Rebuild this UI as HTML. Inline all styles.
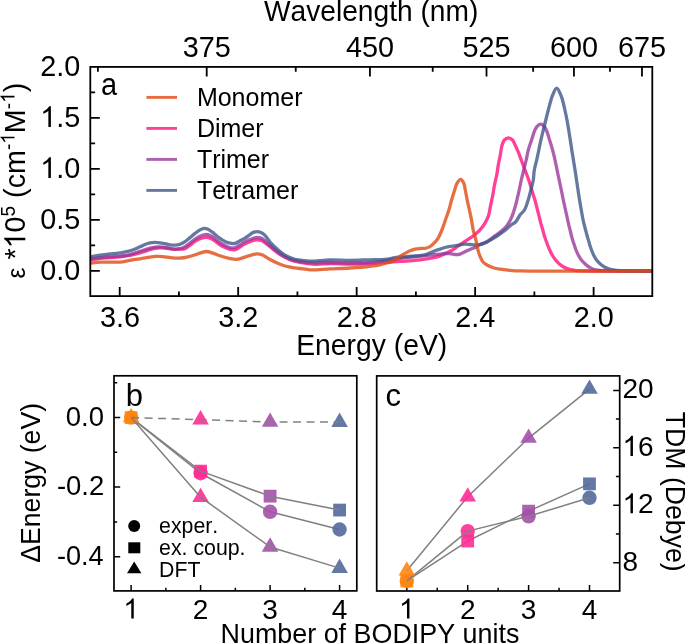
<!DOCTYPE html>
<html><head><meta charset="utf-8"><style>
html,body{margin:0;padding:0;background:#fff;width:685px;height:643px;overflow:hidden}
svg{display:block;transform:translateZ(0);will-change:transform}
text{font-family:"Liberation Sans",sans-serif;font-kerning:none}
</style></head><body>
<svg width="685" height="643" viewBox="0 0 685 643" font-family="Liberation Sans, sans-serif">
<rect width="685" height="643" fill="#fff"/>
<defs><clipPath id="ca"><rect x="90.3" y="66.9" width="562.0" height="229.2"/></clipPath></defs>
<g clip-path="url(#ca)" fill="none" stroke-width="3.30" stroke-linejoin="round" stroke-linecap="round" stroke-opacity="0.80">
<path d="M89.00,260.00 C92.67,259.47 96.41,258.80 100.00,258.40 C103.41,258.02 106.67,257.87 110.00,257.60 C113.33,257.33 116.67,257.18 120.00,256.80 C123.34,256.42 126.68,255.96 130.00,255.30 C133.35,254.63 136.68,253.73 140.00,252.80 C143.35,251.86 147.23,250.49 150.00,249.70 C151.95,249.15 153.32,248.72 155.00,248.40 C156.66,248.09 158.33,247.87 160.00,247.80 C161.66,247.73 163.34,247.83 165.00,248.00 C166.67,248.17 168.33,248.57 170.00,248.80 C171.66,249.03 173.33,249.35 175.00,249.40 C176.66,249.45 178.33,249.23 180.00,249.10 C181.67,248.97 183.40,249.18 185.00,248.60 C186.75,247.96 188.35,246.39 190.00,245.20 C191.68,243.99 193.29,242.49 195.00,241.40 C196.62,240.37 198.16,239.46 200.00,238.80 C202.05,238.07 204.70,237.30 206.80,237.40 C208.66,237.49 210.16,238.07 212.00,239.00 C214.48,240.25 217.59,243.40 220.00,244.90 C221.81,246.03 223.31,246.76 225.00,247.50 C226.64,248.22 228.31,248.95 230.00,249.30 C231.64,249.64 233.12,250.04 235.00,249.60 C237.85,248.94 241.93,245.45 245.00,243.90 C247.51,242.63 249.83,241.47 252.00,240.80 C253.77,240.26 255.33,239.90 257.00,239.90 C258.67,239.90 260.24,240.03 262.00,240.80 C264.47,241.88 267.19,244.68 270.00,246.80 C273.15,249.18 276.58,252.21 280.00,254.40 C283.25,256.48 286.59,258.34 290.00,259.70 C293.26,261.00 296.30,261.75 300.00,262.50 C304.47,263.40 309.99,264.23 315.00,264.40 C319.99,264.56 324.64,263.59 330.00,263.50 C336.19,263.39 343.33,264.00 350.00,264.00 C356.67,264.00 363.82,263.82 370.00,263.50 C375.36,263.22 380.00,262.65 385.00,262.30 C390.00,261.95 395.00,261.73 400.00,261.40 C405.00,261.07 410.51,260.73 415.00,260.30 C418.67,259.94 421.67,259.58 425.00,259.10 C428.34,258.62 432.25,258.04 435.00,257.40 C436.97,256.94 438.35,256.49 440.00,255.90 C441.68,255.30 443.35,254.56 445.00,253.80 C446.68,253.03 448.35,252.21 450.00,251.30 C451.68,250.38 453.36,249.40 455.00,248.30 C456.69,247.17 458.32,245.78 460.00,244.60 C461.65,243.45 463.33,242.37 465.00,241.30 C466.66,240.24 468.36,239.33 470.00,238.20 C471.69,237.03 473.36,235.76 475.00,234.40 C476.70,233.00 478.41,231.64 480.00,229.90 C481.77,227.96 483.63,225.47 485.00,223.20 C486.25,221.13 487.37,218.40 488.00,216.90 C488.34,216.09 488.45,215.90 488.70,215.00 C489.27,212.99 490.02,208.33 490.70,205.00 C491.38,201.67 492.17,198.34 492.80,195.00 C493.43,191.67 493.85,188.33 494.50,185.00 C495.15,181.66 496.07,178.34 496.70,175.00 C497.33,171.68 497.70,168.33 498.30,165.00 C498.90,161.66 499.67,158.34 500.30,155.00 C500.93,151.67 501.25,147.72 502.10,145.00 C502.73,143.00 503.26,141.20 504.40,140.00 C505.43,138.91 507.06,137.91 508.40,137.90 C509.76,137.89 511.41,138.92 512.50,140.00 C513.71,141.20 514.22,143.17 515.10,145.00 C516.14,147.17 517.26,149.66 518.30,152.20 C519.43,154.97 520.47,157.99 521.60,161.00 C522.80,164.18 524.09,167.57 525.30,170.80 C526.49,173.96 527.75,177.10 528.80,180.20 C529.81,183.17 530.69,186.35 531.50,189.00 C532.16,191.19 532.71,193.09 533.30,195.00 C533.84,196.75 534.33,198.04 534.90,200.00 C535.70,202.75 536.65,206.66 537.50,210.00 C538.35,213.33 539.30,217.24 540.00,220.00 C540.50,221.95 540.83,223.34 541.30,225.00 C541.77,226.67 542.33,228.33 542.80,230.00 C543.27,231.66 543.60,233.34 544.10,235.00 C544.60,236.68 545.22,238.34 545.80,240.00 C546.38,241.67 546.95,243.34 547.60,245.00 C548.25,246.68 548.94,248.35 549.70,250.00 C550.47,251.68 551.24,253.36 552.20,255.00 C553.20,256.70 554.37,258.47 555.60,260.00 C556.78,261.46 558.04,262.82 559.40,264.00 C560.71,265.14 562.09,266.17 563.60,267.00 C565.15,267.85 566.80,268.46 568.60,269.00 C570.58,269.59 572.62,269.99 575.00,270.30 C577.95,270.69 581.33,270.78 585.00,270.90 C589.49,271.05 593.47,270.97 600.00,271.00 C612.27,271.05 635.33,271.07 653.00,271.10" stroke="rgb(255,16,124)"/>
<path d="M89.00,259.30 C92.67,258.77 96.41,258.10 100.00,257.70 C103.41,257.32 106.67,257.17 110.00,256.90 C113.33,256.63 116.67,256.48 120.00,256.10 C123.34,255.72 126.70,255.39 130.00,254.60 C133.37,253.80 136.66,252.37 140.00,251.30 C143.33,250.23 147.23,248.93 150.00,248.20 C151.94,247.69 153.32,247.33 155.00,247.10 C156.66,246.87 158.33,246.77 160.00,246.80 C161.67,246.83 163.34,247.04 165.00,247.30 C166.67,247.57 168.33,248.10 170.00,248.40 C171.66,248.70 173.33,249.05 175.00,249.10 C176.66,249.15 178.36,249.10 180.00,248.70 C181.70,248.29 183.38,247.51 185.00,246.60 C186.72,245.63 188.34,244.23 190.00,243.00 C191.67,241.76 193.30,240.35 195.00,239.20 C196.64,238.09 198.18,237.00 200.00,236.20 C201.93,235.35 204.26,234.24 206.30,234.30 C208.26,234.36 210.03,235.31 212.00,236.40 C214.55,237.81 217.60,240.98 220.00,242.60 C221.82,243.82 223.31,244.66 225.00,245.50 C226.64,246.32 228.30,247.26 230.00,247.60 C231.63,247.93 233.39,248.02 235.00,247.60 C236.73,247.15 238.35,245.79 240.00,244.80 C241.68,243.79 243.15,242.57 245.00,241.60 C247.09,240.51 249.84,239.40 252.00,238.70 C253.78,238.12 255.33,237.53 257.00,237.50 C258.66,237.47 260.26,237.64 262.00,238.50 C264.52,239.75 267.16,243.18 270.00,245.60 C273.12,248.26 276.55,251.49 280.00,253.80 C283.23,255.97 286.58,257.87 290.00,259.20 C293.26,260.46 296.65,261.08 300.00,261.70 C303.31,262.31 306.09,262.71 310.00,262.90 C315.51,263.17 323.33,262.45 330.00,262.50 C336.67,262.55 343.33,263.18 350.00,263.20 C356.67,263.22 363.82,263.10 370.00,262.60 C375.37,262.16 379.64,261.35 385.00,260.60 C391.19,259.74 398.33,258.53 405.00,257.70 C411.66,256.87 419.48,256.19 425.00,255.60 C428.91,255.18 432.24,254.76 435.00,254.50 C436.95,254.31 438.33,254.27 440.00,254.10 C441.67,253.93 443.33,253.57 445.00,253.50 C446.66,253.43 448.34,253.53 450.00,253.70 C451.67,253.87 453.71,254.33 455.00,254.50 C455.81,254.61 456.27,254.74 457.00,254.70 C457.90,254.66 458.90,254.46 460.00,254.10 C461.48,253.62 463.34,252.58 465.00,251.80 C466.67,251.02 468.32,250.14 470.00,249.40 C471.65,248.67 473.36,248.18 475.00,247.40 C476.69,246.59 478.31,245.41 480.00,244.60 C481.64,243.82 483.37,243.41 485.00,242.60 C486.70,241.76 488.35,240.72 490.00,239.60 C491.75,238.41 493.42,236.92 495.20,235.60 C497.02,234.25 499.01,233.05 500.80,231.60 C502.61,230.12 504.46,228.61 506.00,226.80 C507.57,224.95 508.94,222.79 510.10,220.60 C511.27,218.39 512.10,216.11 513.00,213.60 C514.01,210.79 515.01,207.40 515.80,204.50 C516.51,201.89 517.02,199.46 517.60,197.00 C518.16,194.63 518.64,192.54 519.20,190.00 C519.87,186.97 520.55,183.33 521.30,180.00 C522.05,176.66 522.88,173.33 523.70,170.00 C524.52,166.66 525.43,163.34 526.20,160.00 C526.96,156.67 527.41,153.31 528.30,150.00 C529.20,146.64 530.50,143.33 531.60,140.00 C532.70,136.67 533.69,132.53 534.90,130.00 C535.72,128.30 536.45,127.01 537.50,126.00 C538.43,125.11 539.64,124.09 540.70,124.10 C541.74,124.11 542.91,125.12 543.80,126.00 C544.82,127.01 545.51,128.31 546.30,130.00 C547.49,132.53 548.55,136.66 549.60,140.00 C550.65,143.33 551.70,146.65 552.60,150.00 C553.50,153.32 554.18,156.32 555.00,160.00 C556.00,164.49 557.05,170.00 558.10,175.00 C559.15,180.00 560.37,185.50 561.30,190.00 C562.06,193.67 562.60,196.67 563.30,200.00 C564.00,203.34 564.77,206.67 565.50,210.00 C566.23,213.33 567.09,217.24 567.70,220.00 C568.13,221.95 568.40,223.34 568.80,225.00 C569.20,226.67 569.68,228.33 570.10,230.00 C570.52,231.66 570.88,233.34 571.30,235.00 C571.72,236.67 572.10,238.34 572.60,240.00 C573.10,241.68 573.73,243.33 574.30,245.00 C574.87,246.67 575.34,248.35 576.00,250.00 C576.67,251.68 577.42,253.36 578.30,255.00 C579.21,256.70 580.23,258.48 581.40,260.00 C582.54,261.47 583.89,262.80 585.20,264.00 C586.43,265.12 587.70,266.15 589.00,267.00 C590.21,267.79 591.21,268.47 592.70,269.00 C594.68,269.71 597.36,270.08 600.00,270.40 C603.06,270.77 605.50,270.78 610.00,270.90 C619.32,271.14 638.67,270.97 653.00,271.00" stroke="rgb(155,55,155)"/>
<path d="M89.00,257.00 C92.67,256.37 96.41,255.61 100.00,255.10 C103.41,254.62 106.67,254.38 110.00,254.00 C113.33,253.62 116.68,253.31 120.00,252.80 C123.34,252.28 126.72,251.87 130.00,250.90 C133.38,249.90 137.25,248.00 140.00,246.80 C141.96,245.95 143.31,245.16 145.00,244.50 C146.65,243.86 148.31,243.25 150.00,242.90 C151.65,242.56 153.33,242.42 155.00,242.40 C156.67,242.38 158.34,242.58 160.00,242.80 C161.67,243.02 163.34,243.37 165.00,243.70 C166.67,244.03 168.32,244.57 170.00,244.80 C171.66,245.03 173.34,245.20 175.00,245.10 C176.67,245.00 178.37,244.75 180.00,244.20 C181.71,243.62 183.38,242.65 185.00,241.60 C186.72,240.48 188.34,238.96 190.00,237.60 C191.67,236.23 193.30,234.70 195.00,233.40 C196.64,232.14 198.38,230.78 200.00,229.90 C201.36,229.16 202.65,228.39 204.00,228.30 C205.32,228.21 206.71,228.74 208.00,229.30 C209.39,229.90 210.69,230.94 212.00,231.90 C213.36,232.90 214.66,234.11 216.00,235.20 C217.33,236.28 218.56,237.40 220.00,238.40 C221.54,239.47 223.29,240.59 225.00,241.40 C226.63,242.17 228.31,242.87 230.00,243.20 C231.64,243.52 233.38,243.76 235.00,243.40 C236.72,243.02 238.34,241.68 240.00,240.80 C241.67,239.91 243.36,239.11 245.00,238.10 C246.70,237.05 248.54,235.60 250.00,234.60 C251.12,233.83 251.88,233.08 253.00,232.60 C254.20,232.09 255.67,231.70 257.00,231.70 C258.33,231.70 259.72,232.03 261.00,232.60 C262.40,233.22 263.69,234.13 265.00,235.40 C266.71,237.06 268.26,240.09 270.00,242.10 C271.60,243.95 273.31,245.50 275.00,247.10 C276.65,248.66 278.30,250.23 280.00,251.60 C281.63,252.92 283.29,254.18 285.00,255.20 C286.63,256.16 288.31,256.91 290.00,257.60 C291.65,258.27 293.32,258.88 295.00,259.30 C296.65,259.71 298.04,259.84 300.00,260.10 C302.76,260.47 306.09,261.12 310.00,261.20 C315.52,261.31 323.33,259.95 330.00,259.80 C336.66,259.65 343.33,260.30 350.00,260.30 C356.67,260.30 363.81,259.94 370.00,259.80 C375.36,259.68 380.52,259.95 385.00,259.50 C388.69,259.13 391.66,258.15 395.00,257.70 C398.32,257.25 401.67,257.08 405.00,256.80 C408.33,256.52 411.67,256.33 415.00,256.00 C418.34,255.67 421.72,255.64 425.00,254.80 C428.39,253.93 432.23,251.83 435.00,250.80 C436.94,250.08 438.33,249.65 440.00,249.10 C441.66,248.55 443.32,247.95 445.00,247.50 C446.66,247.05 448.33,246.67 450.00,246.40 C451.66,246.14 453.34,246.16 455.00,245.90 C456.67,245.63 458.33,245.08 460.00,244.80 C461.66,244.52 463.33,244.25 465.00,244.20 C466.66,244.15 468.33,244.38 470.00,244.50 C471.67,244.62 473.33,244.88 475.00,244.90 C476.67,244.92 478.35,244.89 480.00,244.60 C481.68,244.30 483.33,243.81 485.00,243.10 C486.83,242.32 488.59,241.12 490.50,240.00 C492.61,238.77 494.80,237.52 497.10,236.00 C499.76,234.25 503.03,231.98 505.50,230.00 C507.61,228.32 509.30,226.41 511.10,225.00 C512.61,223.82 514.15,223.39 515.50,222.00 C517.19,220.27 518.43,217.09 520.00,215.00 C521.41,213.13 523.14,212.09 524.40,210.00 C526.00,207.35 527.11,203.36 528.20,200.00 C529.27,196.69 530.05,193.34 530.90,190.00 C531.75,186.67 532.73,183.35 533.30,180.00 C533.86,176.69 533.74,173.31 534.30,170.00 C534.87,166.65 535.95,163.34 536.70,160.00 C537.45,156.67 538.10,153.33 538.80,150.00 C539.50,146.67 540.15,143.33 540.90,140.00 C541.65,136.66 542.48,133.33 543.30,130.00 C544.12,126.66 544.97,123.33 545.80,120.00 C546.63,116.67 547.43,113.33 548.30,110.00 C549.17,106.66 550.16,102.75 551.00,100.00 C551.60,98.04 551.90,96.75 552.70,95.00 C553.68,92.86 555.35,88.21 556.70,88.20 C558.05,88.19 559.80,92.86 560.80,95.00 C561.61,96.75 561.93,98.03 562.50,100.00 C563.29,102.75 564.15,106.66 564.90,110.00 C565.65,113.33 566.37,116.66 567.00,120.00 C567.63,123.33 568.15,126.67 568.70,130.00 C569.25,133.33 569.78,136.67 570.30,140.00 C570.82,143.33 571.28,146.67 571.80,150.00 C572.32,153.33 572.81,156.33 573.40,160.00 C574.12,164.49 575.03,170.00 575.80,175.00 C576.57,180.00 577.23,185.00 578.00,190.00 C578.77,195.00 579.55,200.00 580.40,205.00 C581.25,210.00 582.33,216.35 583.10,220.00 C583.55,222.12 583.88,223.34 584.30,225.00 C584.72,226.67 585.17,228.33 585.60,230.00 C586.03,231.67 586.43,233.34 586.90,235.00 C587.37,236.67 587.92,238.33 588.40,240.00 C588.88,241.66 589.29,243.34 589.80,245.00 C590.32,246.67 590.87,248.34 591.50,250.00 C592.14,251.68 592.78,253.36 593.60,255.00 C594.44,256.69 595.37,258.49 596.50,260.00 C597.61,261.48 598.94,262.82 600.30,264.00 C601.61,265.14 602.99,266.17 604.50,267.00 C606.05,267.85 607.64,268.46 609.50,269.00 C611.72,269.64 614.15,270.08 617.00,270.40 C620.73,270.82 625.05,270.79 630.00,270.90 C636.58,271.04 645.33,270.97 653.00,271.00" stroke="rgb(61,86,136)"/>
<path d="M89.00,263.20 C92.67,262.83 96.42,262.28 100.00,262.10 C103.41,261.93 106.67,262.10 110.00,262.10 C113.33,262.10 116.68,262.40 120.00,262.10 C123.35,261.80 126.66,260.85 130.00,260.30 C133.33,259.75 136.67,259.33 140.00,258.80 C143.34,258.27 147.24,257.53 150.00,257.10 C151.95,256.80 153.33,256.52 155.00,256.40 C156.66,256.28 158.20,256.30 160.00,256.40 C162.14,256.52 164.86,256.95 167.00,257.20 C168.81,257.41 170.25,257.65 172.00,257.80 C173.91,257.96 175.92,258.14 178.00,258.10 C180.24,258.06 182.48,257.94 185.00,257.50 C188.06,256.96 192.25,255.64 195.00,254.80 C196.96,254.20 198.21,253.62 200.00,253.10 C202.01,252.51 204.42,251.51 206.50,251.50 C208.41,251.49 210.02,252.20 212.00,252.80 C214.44,253.54 217.16,254.87 220.00,255.80 C223.13,256.82 226.94,258.02 230.00,258.60 C232.52,259.07 234.61,259.50 237.00,259.30 C239.60,259.08 242.43,257.87 245.00,257.10 C247.42,256.37 249.84,255.35 252.00,254.80 C253.79,254.35 255.33,253.90 257.00,253.90 C258.67,253.90 260.20,254.13 262.00,254.80 C264.43,255.70 267.15,258.00 270.00,259.50 C273.11,261.14 276.62,262.91 280.00,264.20 C283.29,265.46 286.64,266.48 290.00,267.20 C293.30,267.91 296.67,268.07 300.00,268.50 C303.33,268.93 306.09,269.63 310.00,269.80 C315.51,270.03 323.33,269.20 330.00,268.90 C336.67,268.60 343.34,268.43 350.00,268.00 C356.67,267.57 364.49,266.95 370.00,266.30 C373.91,265.84 377.26,265.41 380.00,264.80 C381.97,264.36 383.33,263.73 385.00,263.30 C386.66,262.87 388.36,262.74 390.00,262.20 C391.69,261.65 393.38,260.93 395.00,260.00 C396.72,259.02 398.31,257.51 400.00,256.40 C401.64,255.32 403.32,254.34 405.00,253.40 C406.65,252.48 408.31,251.52 410.00,250.80 C411.64,250.10 413.31,249.48 415.00,249.10 C416.65,248.73 418.33,248.63 420.00,248.50 C421.66,248.37 423.36,248.61 425.00,248.30 C426.69,247.99 428.42,247.51 430.00,246.60 C431.78,245.57 433.60,243.69 435.00,242.20 C436.20,240.92 437.02,239.91 438.00,238.30 C439.34,236.11 440.70,232.93 441.90,230.00 C443.19,226.85 444.23,223.33 445.40,220.00 C446.57,216.67 447.86,213.35 448.90,210.00 C449.93,206.69 450.64,203.32 451.60,200.00 C452.57,196.66 453.70,193.00 454.70,190.00 C455.53,187.51 455.97,185.05 457.10,183.20 C458.06,181.63 459.57,179.36 460.70,179.40 C461.77,179.43 462.95,181.49 463.70,183.00 C464.62,184.86 464.77,187.45 465.30,190.00 C465.93,193.03 466.52,196.67 467.20,200.00 C467.88,203.34 468.68,206.66 469.40,210.00 C470.12,213.33 470.87,216.66 471.50,220.00 C472.13,223.33 472.47,226.68 473.20,230.00 C473.94,233.35 475.10,236.66 475.90,240.00 C476.70,243.32 477.30,247.25 478.00,250.00 C478.50,251.97 478.80,253.23 479.50,255.00 C480.36,257.17 481.45,260.20 483.00,262.00 C484.37,263.59 486.26,264.53 488.00,265.50 C489.70,266.45 491.40,267.20 493.30,267.80 C495.37,268.46 497.53,268.81 500.00,269.20 C502.99,269.68 506.66,270.02 510.00,270.30 C513.33,270.58 515.55,270.76 520.00,270.90 C528.89,271.19 546.67,271.07 560.00,271.10 C573.33,271.13 585.73,271.10 600.00,271.10 C616.43,271.10 635.33,271.10 653.00,271.10" stroke="rgb(224,74,18)"/>
</g>
<rect x="90.3" y="66.9" width="562.0" height="229.2" fill="none" stroke="#000" stroke-width="1.8"/>
<path d="M119.70,296.10V287.10 M238.18,296.10V287.10 M356.66,296.10V287.10 M475.14,296.10V287.10 M593.62,296.10V287.10 M178.94,296.10V291.50 M297.42,296.10V291.50 M415.90,296.10V291.50 M534.38,296.10V291.50 M90.30,270.80H99.80 M90.30,219.85H99.80 M90.30,168.90H99.80 M90.30,117.95H99.80 M90.30,245.33H95.10 M90.30,194.38H95.10 M90.30,143.43H95.10 M90.30,92.47H95.10 M206.71,66.90V76.40 M369.93,66.90V76.40 M486.51,66.90V76.40 M573.95,66.90V76.40 M641.96,66.90V76.40 M97.90,66.90V71.70 M295.74,66.90V71.70 M432.71,66.90V71.70 M533.15,66.90V71.70 M609.96,66.90V71.70" stroke="#000" stroke-width="1.8" fill="none"/>
<g fill="#000">
<text x="119.90" y="327.4" font-size="28.8" text-anchor="middle">3.6</text>
<text x="238.38" y="327.4" font-size="28.8" text-anchor="middle">3.2</text>
<text x="356.86" y="327.4" font-size="28.8" text-anchor="middle">2.8</text>
<text x="475.34" y="327.4" font-size="28.8" text-anchor="middle">2.4</text>
<text x="593.82" y="327.4" font-size="28.8" text-anchor="middle">2.0</text>
<text x="206.71" y="56.8" font-size="28.8" text-anchor="middle">375</text>
<text x="369.93" y="56.8" font-size="28.8" text-anchor="middle">450</text>
<text x="486.51" y="56.8" font-size="28.8" text-anchor="middle">525</text>
<text x="573.95" y="56.8" font-size="28.8" text-anchor="middle">600</text>
<text x="641.96" y="56.8" font-size="28.8" text-anchor="middle">675</text>
<text x="40.16" y="279.80" font-size="28.8">0.0</text>
<text x="40.16" y="228.85" font-size="28.8">0.5</text>
<text x="40.16" y="177.90" font-size="28.8">&#8199;.0</text>
<path d="M50.89,177.90L48.36,177.90L48.36,161.77C47.76,162.35 46.96,162.94 45.97,163.51C44.97,164.09 44.09,164.53 43.30,164.82L43.30,162.38C44.71,161.71 45.94,160.91 47.00,159.97C48.05,159.03 48.80,158.11 49.23,157.20L50.89,157.20Z" fill="#000"/>
<text x="40.16" y="126.95" font-size="28.8">&#8199;.5</text>
<path d="M50.89,126.95L48.36,126.95L48.36,110.82C47.76,111.40 46.96,111.99 45.97,112.56C44.97,113.14 44.09,113.58 43.30,113.87L43.30,111.42C44.71,110.76 45.94,109.96 47.00,109.02C48.05,108.08 48.80,107.16 49.23,106.25L50.89,106.25Z" fill="#000"/>
<text x="40.16" y="76.00" font-size="28.8">2.0</text>
<text x="263.98" y="20.80" font-size="28.8" textLength="214.37" lengthAdjust="spacingAndGlyphs">Wavelength (nm)</text>
<text x="296.18" y="354.50" font-size="28.8" textLength="151.08" lengthAdjust="spacingAndGlyphs">Energy (eV)</text>
<g transform="translate(25.3,278.4) rotate(-90) scale(0.9760,1)">
<text x="0.00" y="0.00" font-size="25" xml:space="preserve">&#949;</text>
<text x="11.15" y="0.00" font-size="29.4" xml:space="preserve"> *</text>
<path d="M41.71,0.00L39.12,0.00L39.12,-16.47C38.51,-15.88 37.69,-15.27 36.68,-14.69C35.66,-14.10 34.76,-13.65 33.96,-13.35L33.96,-15.85C35.39,-16.52 36.65,-17.34 37.73,-18.30C38.81,-19.27 39.57,-20.20 40.01,-21.13L41.71,-21.13Z" fill="#000"/>
<text x="47.11" y="0.00" font-size="29.4" xml:space="preserve">0</text>
<text x="63.46" y="-10.80" font-size="19.5" xml:space="preserve">5</text>
<text x="74.30" y="0.00" font-size="29.4" xml:space="preserve"> (cm</text>
<text x="131.45" y="-10.80" font-size="19.5" xml:space="preserve">-</text>
<path d="M145.21,-10.80L143.50,-10.80L143.50,-21.72C143.09,-21.33 142.54,-20.93 141.88,-20.54C141.20,-20.15 140.60,-19.85 140.07,-19.65L140.07,-21.31C141.02,-21.76 141.86,-22.30 142.57,-22.94C143.29,-23.58 143.79,-24.20 144.09,-24.82L145.21,-24.82Z" fill="#000"/>
<text x="148.79" y="0.00" font-size="29.4" xml:space="preserve">M</text>
<text x="173.28" y="-10.80" font-size="19.5" xml:space="preserve">-</text>
<path d="M187.04,-10.80L185.32,-10.80L185.32,-21.72C184.91,-21.33 184.37,-20.93 183.71,-20.54C183.03,-20.15 182.43,-19.85 181.90,-19.65L181.90,-21.31C182.85,-21.76 183.69,-22.30 184.40,-22.94C185.11,-23.58 185.62,-24.20 185.91,-24.82L187.04,-24.82Z" fill="#000"/>
<text x="190.62" y="0.00" font-size="29.4" xml:space="preserve">)</text>
</g>
<text x="100.97" y="95.20" font-size="31" textLength="16.13" lengthAdjust="spacingAndGlyphs">a</text>
<line x1="146.4" y1="97.4" x2="177.0" y2="97.4" stroke="rgb(224,74,18)" stroke-opacity="0.80" stroke-width="2.9"/>
<text x="196.9" y="105.7" font-size="25">Monomer</text>
<line x1="146.4" y1="128.4" x2="177.0" y2="128.4" stroke="rgb(255,16,124)" stroke-opacity="0.80" stroke-width="2.9"/>
<text x="196.9" y="136.7" font-size="25">Dimer</text>
<line x1="146.4" y1="159.4" x2="177.0" y2="159.4" stroke="rgb(155,55,155)" stroke-opacity="0.80" stroke-width="2.9"/>
<text x="196.9" y="167.7" font-size="25">Trimer</text>
<line x1="146.4" y1="190.4" x2="177.0" y2="190.4" stroke="rgb(61,86,136)" stroke-opacity="0.80" stroke-width="2.9"/>
<text x="196.9" y="198.7" font-size="25">Tetramer</text>
</g>
<path d="M131.10,417.60 L200.60,473.22 L270.10,511.80 L339.60,529.53" fill="none" stroke="rgb(128,128,128)" stroke-width="1.5" stroke-linejoin="round"/>
<circle cx="131.10" cy="417.60" r="7.20" fill="rgb(255,133,16)" fill-opacity="0.90"/>
<circle cx="200.60" cy="473.22" r="7.20" fill="rgb(255,43,149)" fill-opacity="0.90"/>
<circle cx="270.10" cy="511.80" r="7.20" fill="rgb(163,81,169)" fill-opacity="0.90"/>
<circle cx="339.60" cy="529.53" r="7.20" fill="rgb(83,105,155)" fill-opacity="0.90"/>
<rect x="124.70" y="411.20" width="12.80" height="12.80" fill="rgb(255,133,16)" fill-opacity="0.90"/>
<rect x="194.20" y="464.73" width="12.80" height="12.80" fill="rgb(255,43,149)" fill-opacity="0.90"/>
<rect x="263.70" y="489.76" width="12.80" height="12.80" fill="rgb(163,81,169)" fill-opacity="0.90"/>
<rect x="333.20" y="503.66" width="12.80" height="12.80" fill="rgb(83,105,155)" fill-opacity="0.90"/>
<path d="M131.10,417.60 L200.60,471.13 L270.10,496.16 L339.60,510.06" fill="none" stroke="rgb(128,128,128)" stroke-width="1.5" stroke-linejoin="round"/>
<path d="M131.10,408.07 L139.40,422.37 L122.80,422.37 Z" fill="rgb(255,133,16)" fill-opacity="0.90"/>
<path d="M200.60,487.67 L208.90,501.97 L192.30,501.97 Z" fill="rgb(255,43,149)" fill-opacity="0.90"/>
<path d="M200.60,410.08 L208.90,424.38 L192.30,424.38 Z" fill="rgb(255,43,149)" fill-opacity="0.90"/>
<path d="M270.10,537.37 L278.40,551.67 L261.80,551.67 Z" fill="rgb(163,81,169)" fill-opacity="0.90"/>
<path d="M270.10,412.48 L278.40,426.78 L261.80,426.78 Z" fill="rgb(163,81,169)" fill-opacity="0.90"/>
<path d="M339.60,558.58 L347.90,572.88 L331.30,572.88 Z" fill="rgb(83,105,155)" fill-opacity="0.90"/>
<path d="M339.60,412.59 L347.90,426.89 L331.30,426.89 Z" fill="rgb(83,105,155)" fill-opacity="0.90"/>
<path d="M131.10,417.60 L200.60,497.20 L270.10,546.91 L339.60,568.11" fill="none" stroke="rgb(128,128,128)" stroke-width="1.5" stroke-linejoin="round"/>
<path d="M131.10,417.60 L200.60,419.62 L270.10,422.01 L339.60,422.12" fill="none" stroke="rgb(128,128,128)" stroke-width="1.5" stroke-linejoin="round" stroke-dasharray="8 5.5"/>
<rect x="114.0" y="375.8" width="242.8" height="215.1" fill="none" stroke="#000" stroke-width="1.7"/>
<path d="M131.10,590.90V584.90 M200.60,590.90V584.90 M270.10,590.90V584.90 M339.60,590.90V584.90 M165.85,590.90V587.70 M235.35,590.90V587.70 M304.85,590.90V587.70 M114.00,417.60H120.20 M114.00,487.12H120.20 M114.00,556.64H120.20 M114.00,382.84H117.20 M114.00,452.36H117.20 M114.00,521.88H117.20" stroke="#000" stroke-width="1.5" fill="none"/>
<g fill="#000">
<text x="123.31" y="618.60" font-size="28">&#8199;</text>
<path d="M133.75,618.60L131.28,618.60L131.28,602.92C130.70,603.48 129.92,604.05 128.96,604.61C127.99,605.17 127.13,605.60 126.36,605.89L126.36,603.51C127.73,602.86 128.93,602.08 129.96,601.17C130.98,600.25 131.71,599.36 132.13,598.48L133.75,598.48Z" fill="#000"/>
<text x="192.81" y="618.60" font-size="28">2</text>
<text x="262.31" y="618.60" font-size="28">3</text>
<text x="331.81" y="618.60" font-size="28">4</text>
<text x="65.73" y="425.70" font-size="28" textLength="38.25" lengthAdjust="spacingAndGlyphs">0.0</text>
<text x="56.88" y="495.22" font-size="28" textLength="47.30" lengthAdjust="spacingAndGlyphs">-0.2</text>
<text x="56.90" y="564.74" font-size="28" textLength="46.70" lengthAdjust="spacingAndGlyphs">-0.4</text>
<text transform="translate(39.70,562.00) rotate(-90)" x="-0.79" y="0" font-size="28.2" textLength="159.85" lengthAdjust="spacingAndGlyphs">&#916;Energy (eV)</text>
<text x="125.8" y="405.6" font-size="31">b</text>
</g>
<circle cx="134.2" cy="526.0" r="6.0" fill="#000"/>
<rect x="128.3" y="542.3" width="12" height="11" fill="#000"/>
<path d="M134.2,561.6 L141.4,573.2 L127.0,573.2 Z" fill="#000"/>
<g font-size="21.3" fill="#000">
<text x="159.1" y="532.9">exper.</text>
<text x="159.1" y="554.7">ex. coup.</text>
<text x="159.1" y="576.6">DFT</text>
</g>
<rect x="376.7" y="375.9" width="243.0" height="215.1" fill="none" stroke="#000" stroke-width="1.7"/>
<path d="M406.80,591.00V585.00 M467.70,591.00V585.00 M528.60,591.00V585.00 M589.50,591.00V585.00 M437.25,591.00V587.80 M498.15,591.00V587.80 M559.05,591.00V587.80 M619.70,562.70H613.20 M619.70,505.26H613.20 M619.70,447.82H613.20 M619.70,390.38H613.20 M619.70,533.98H615.90 M619.70,476.54H615.90 M619.70,419.10H615.90" stroke="#000" stroke-width="1.5" fill="none"/>
<path d="M406.80,580.94 L467.70,541.02 L528.60,511.15 L589.50,483.86" fill="none" stroke="rgb(128,128,128)" stroke-width="1.5" stroke-linejoin="round"/>
<rect x="400.40" y="574.54" width="12.80" height="12.80" fill="rgb(255,133,16)" fill-opacity="0.90"/>
<rect x="461.30" y="534.62" width="12.80" height="12.80" fill="rgb(255,43,149)" fill-opacity="0.90"/>
<rect x="522.20" y="504.75" width="12.80" height="12.80" fill="rgb(163,81,169)" fill-opacity="0.90"/>
<rect x="583.10" y="477.46" width="12.80" height="12.80" fill="rgb(83,105,155)" fill-opacity="0.90"/>
<circle cx="406.80" cy="580.94" r="7.20" fill="rgb(255,133,16)" fill-opacity="0.90"/>
<circle cx="467.70" cy="531.11" r="7.20" fill="rgb(255,43,149)" fill-opacity="0.90"/>
<circle cx="528.60" cy="516.32" r="7.20" fill="rgb(163,81,169)" fill-opacity="0.90"/>
<circle cx="589.50" cy="497.79" r="7.20" fill="rgb(83,105,155)" fill-opacity="0.90"/>
<path d="M406.80,580.94 L467.70,531.11 L528.60,516.32 L589.50,497.79" fill="none" stroke="rgb(128,128,128)" stroke-width="1.5" stroke-linejoin="round"/>
<path d="M406.80,570.74 L467.70,496.79 L528.60,438.06 L589.50,389.09" fill="none" stroke="rgb(128,128,128)" stroke-width="1.5" stroke-linejoin="round"/>
<path d="M406.80,561.21 L415.10,575.51 L398.50,575.51 Z" fill="rgb(255,133,16)" fill-opacity="0.90"/>
<path d="M467.70,487.25 L476.00,501.55 L459.40,501.55 Z" fill="rgb(255,43,149)" fill-opacity="0.90"/>
<path d="M528.60,428.52 L536.90,442.82 L520.30,442.82 Z" fill="rgb(163,81,169)" fill-opacity="0.90"/>
<path d="M589.50,379.55 L597.80,393.85 L581.20,393.85 Z" fill="rgb(83,105,155)" fill-opacity="0.90"/>
<g fill="#000">
<text x="399.01" y="618.60" font-size="28">&#8199;</text>
<path d="M409.45,618.60L406.98,618.60L406.98,602.92C406.40,603.48 405.62,604.05 404.66,604.61C403.69,605.17 402.83,605.60 402.06,605.89L402.06,603.51C403.43,602.86 404.63,602.08 405.66,601.17C406.68,600.25 407.41,599.36 407.83,598.48L409.45,598.48Z" fill="#000"/>
<text x="459.91" y="618.60" font-size="28">2</text>
<text x="520.81" y="618.60" font-size="28">3</text>
<text x="581.71" y="618.60" font-size="28">4</text>
<text x="622.50" y="570.80" font-size="28">8</text>
<text x="622.50" y="513.36" font-size="28">&#8199;2</text>
<path d="M632.93,513.36L630.47,513.36L630.47,497.68C629.88,498.24 629.10,498.81 628.15,499.37C627.18,499.93 626.31,500.36 625.55,500.65L625.55,498.27C626.92,497.62 628.12,496.84 629.14,495.93C630.17,495.01 630.89,494.12 631.32,493.24L632.93,493.24Z" fill="#000"/>
<text x="622.50" y="455.92" font-size="28">&#8199;6</text>
<path d="M632.93,455.92L630.47,455.92L630.47,440.24C629.88,440.80 629.10,441.37 628.15,441.93C627.18,442.49 626.31,442.92 625.55,443.21L625.55,440.83C626.92,440.18 628.12,439.40 629.14,438.49C630.17,437.57 630.89,436.68 631.32,435.80L632.93,435.80Z" fill="#000"/>
<text x="622.50" y="398.48" font-size="28">20</text>
<text transform="translate(665.50,412.40) rotate(90)" x="-0.60" y="0" font-size="28" textLength="159.85" lengthAdjust="spacingAndGlyphs">TDM (Debye)</text>
<text x="220.60" y="642.60" font-size="28" textLength="298.78" lengthAdjust="spacingAndGlyphs">Number of BODIPY units</text>
<text x="385.5" y="405.6" font-size="31">c</text>
</g>
</svg></body></html>
